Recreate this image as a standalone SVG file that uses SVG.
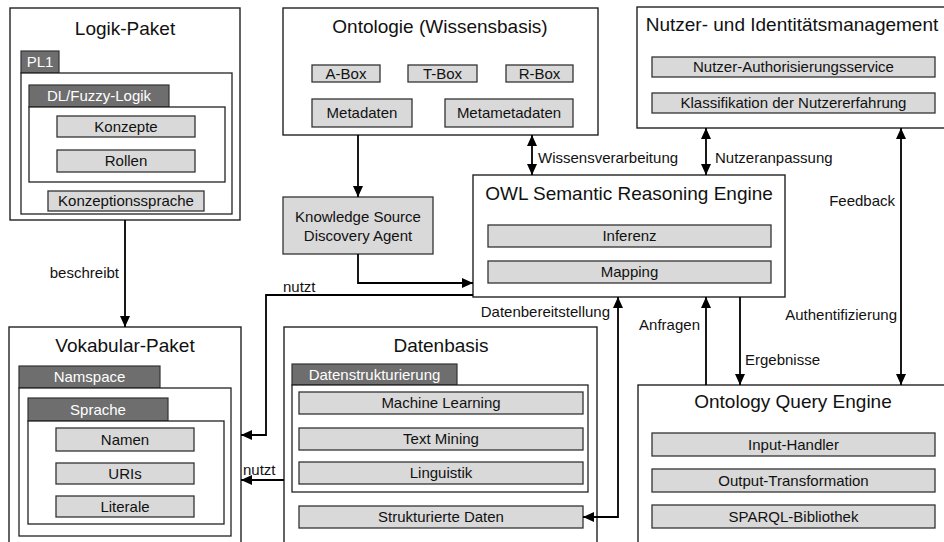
<svg xmlns="http://www.w3.org/2000/svg" width="944" height="542" viewBox="0 0 944 542">
<defs>
<marker id="ah" markerUnits="userSpaceOnUse" markerWidth="12" markerHeight="11" refX="11" refY="5" orient="auto-start-reverse" viewBox="0 0 12 10">
<path d="M0,0 L11,5 L0,10 z" fill="#000"/>
</marker>
</defs>
<style>
text{font-family:"Liberation Sans",Arial,sans-serif;fill:#111}
.outer{fill:#fff;stroke:#222;stroke-width:1.4}
.inner{fill:#fff;stroke:#222;stroke-width:1.3}
.sub{fill:#d9d9d9;stroke:#333;stroke-width:1.3}
.tab{fill:#6e6e6e;stroke:#333;stroke-width:1.2}
.title{font-size:19px;text-anchor:middle}
.st{font-size:15px;text-anchor:middle}
.tt{font-size:15px;text-anchor:middle;fill:#fff}
.lbl{font-size:15px}
.end{text-anchor:end}
.c{fill:none;stroke:#000;stroke-width:1.8}
</style>
<rect width="944" height="542" fill="#fff"/>

<g id="logik">
<rect class="outer" x="10" y="8" width="230" height="212"/>
<text class="title" x="125" y="35">Logik-Paket</text>
<rect class="tab" x="21" y="51" width="38" height="22"/>
<text class="tt" x="40" y="67">PL1</text>
<rect class="inner" x="21" y="73" width="211" height="141"/>
<rect class="tab" x="29" y="85" width="140" height="22"/>
<text class="tt" x="99" y="101">DL/Fuzzy-Logik</text>
<rect class="inner" x="29" y="107" width="196" height="75"/>
<rect class="sub" x="57" y="116" width="138" height="21"/>
<text class="st" x="126" y="132">Konzepte</text>
<rect class="sub" x="57" y="150" width="138" height="22"/>
<text class="st" x="126" y="166">Rollen</text>
<rect class="sub" x="48" y="191" width="156" height="20"/>
<text class="st" x="126" y="206">Konzeptionssprache</text>
</g>

<g id="ontologie">
<rect class="outer" x="283" y="8" width="315" height="127"/>
<text class="title" x="440" y="33">Ontologie (Wissensbasis)</text>
<rect class="sub" x="312" y="65" width="68" height="17"/>
<text class="st" x="346" y="79">A-Box</text>
<rect class="sub" x="408" y="65" width="69" height="17"/>
<text class="st" x="442.5" y="79">T-Box</text>
<rect class="sub" x="506" y="65" width="67" height="17"/>
<text class="st" x="539.5" y="79">R-Box</text>
<rect class="sub" x="312" y="99" width="100" height="28"/>
<text class="st" x="362" y="118">Metadaten</text>
<rect class="sub" x="445" y="99" width="128" height="28"/>
<text class="st" x="509" y="118">Metametadaten</text>
</g>

<g id="nutzer">
<rect class="outer" x="637" y="7" width="313" height="121"/>
<text class="title" x="792" y="31">Nutzer- und Identitätsmanagement</text>
<rect class="sub" x="652" y="57" width="283" height="20"/>
<text class="st" x="793.5" y="72">Nutzer-Authorisierungsservice</text>
<rect class="sub" x="652" y="93" width="283" height="20"/>
<text class="st" x="793.5" y="108">Klassifikation der Nutzererfahrung</text>
</g>

<g id="ksda">
<rect class="sub" x="283" y="197" width="150" height="57"/>
<text class="st" x="358" y="222">Knowledge Source</text>
<text class="st" x="358" y="241">Discovery Agent</text>
</g>

<g id="owl">
<rect class="outer" x="473" y="175" width="312" height="122"/>
<text class="title" x="629" y="200">OWL Semantic Reasoning Engine</text>
<rect class="sub" x="488" y="225" width="283" height="22"/>
<text class="st" x="629.5" y="241">Inferenz</text>
<rect class="sub" x="488" y="261" width="283" height="22"/>
<text class="st" x="629.5" y="277">Mapping</text>
</g>

<g id="vokabular">
<rect class="outer" x="9" y="327" width="232" height="222"/>
<text class="title" x="125" y="352">Vokabular-Paket</text>
<rect class="tab" x="19" y="366" width="141" height="22"/>
<text class="tt" x="89.5" y="382">Namspace</text>
<rect class="inner" x="19" y="388" width="212" height="148"/>
<rect class="tab" x="28" y="398" width="140" height="23"/>
<text class="tt" x="98" y="415">Sprache</text>
<rect class="inner" x="28" y="421" width="196" height="103"/>
<rect class="sub" x="56" y="428" width="138" height="23"/>
<text class="st" x="125" y="445">Namen</text>
<rect class="sub" x="56" y="463" width="138" height="21"/>
<text class="st" x="125" y="479">URIs</text>
<rect class="sub" x="56" y="496" width="138" height="21"/>
<text class="st" x="125" y="512">Literale</text>
</g>

<g id="datenbasis">
<rect class="outer" x="284" y="327" width="313" height="222"/>
<text class="title" x="441" y="352">Datenbasis</text>
<rect class="tab" x="292" y="364" width="165" height="21"/>
<text class="tt" x="374.5" y="380">Datenstrukturierung</text>
<rect class="inner" x="292" y="385" width="296" height="107"/>
<rect class="sub" x="299" y="392" width="284" height="22"/>
<text class="st" x="441" y="408">Machine Learning</text>
<rect class="sub" x="299" y="428" width="284" height="22"/>
<text class="st" x="441" y="444">Text Mining</text>
<rect class="sub" x="299" y="462" width="284" height="22"/>
<text class="st" x="441" y="478">Linguistik</text>
<rect class="sub" x="299" y="506" width="284" height="22"/>
<text class="st" x="441" y="522">Strukturierte Daten</text>
</g>

<g id="queryengine">
<rect class="outer" x="638" y="385" width="312" height="164"/>
<text class="title" x="793" y="408">Ontology Query Engine</text>
<rect class="sub" x="652" y="433" width="283" height="23"/>
<text class="st" x="793.5" y="450">Input-Handler</text>
<rect class="sub" x="652" y="469" width="283" height="23"/>
<text class="st" x="793.5" y="486">Output-Transformation</text>
<rect class="sub" x="652" y="505" width="283" height="23"/>
<text class="st" x="793.5" y="522">SPARQL-Bibliothek</text>
</g>

<g id="connectors">
<path class="c" d="M125,220 V327" marker-end="url(#ah)"/>
<text class="lbl end" x="119" y="278">beschreibt</text>
<path class="c" d="M358,135 V197" marker-end="url(#ah)"/>
<path class="c" d="M358,254 V283 H473" marker-end="url(#ah)"/>
<path class="c" d="M532,135 V175" marker-start="url(#ah)" marker-end="url(#ah)"/>
<text class="lbl" x="538" y="163">Wissensverarbeitung</text>
<path class="c" d="M706,128 V175" marker-start="url(#ah)" marker-end="url(#ah)"/>
<text class="lbl" x="715" y="163">Nutzeranpassung</text>
<path class="c" d="M901,128 V385" marker-start="url(#ah)" marker-end="url(#ah)"/>
<text class="lbl end" x="895" y="206">Feedback</text>
<text class="lbl end" x="897" y="320">Authentifizierung</text>
<path class="c" d="M473,295 H266 V435 H241" marker-end="url(#ah)"/>
<text class="lbl" x="283" y="292">nutzt</text>
<path class="c" d="M284,480 H241" marker-end="url(#ah)"/>
<text class="lbl" x="243" y="475">nutzt</text>
<path class="c" d="M583,517 H618 V297" marker-start="url(#ah)" marker-end="url(#ah)"/>
<text class="lbl end" x="610" y="317">Datenbereitstellung</text>
<path class="c" d="M706,385 V297" marker-end="url(#ah)"/>
<text class="lbl end" x="700" y="330">Anfragen</text>
<path class="c" d="M740,297 V385" marker-end="url(#ah)"/>
<text class="lbl" x="745" y="365">Ergebnisse</text>
</g>
</svg>
